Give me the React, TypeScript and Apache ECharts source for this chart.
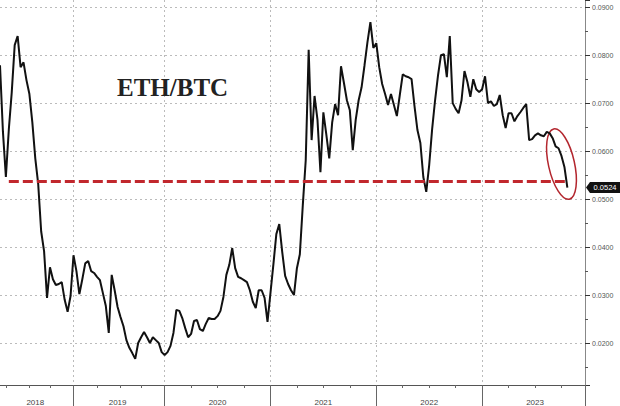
import React, { useEffect, useRef } from 'react';
import * as echarts from 'echarts';

// ---- data ----
const years = ['2018', '2019', '2020', '2021', '2022', '2023'];
// observation slots on the axis for each year (2018 partial; 2019 sparser)
const slotsPerYear = [25, 31, 36, 36, 36, 36];
const fullYearSlots = [31, 31, 36, 36, 36, 36];

const v2018 = [0.0779, 0.064, 0.0546, 0.0645, 0.0723, 0.0821, 0.084, 0.0775, 0.0785, 0.0748, 0.0719, 0.066, 0.0585, 0.0531, 0.0433, 0.0391, 0.0294, 0.0358, 0.0333, 0.0321, 0.0323, 0.0327, 0.029, 0.0265, 0.0298];
const v2019 = [0.0383, 0.035, 0.0302, 0.0333, 0.0366, 0.0371, 0.035, 0.0346, 0.0338, 0.0331, 0.0304, 0.0277, 0.0221, 0.0342, 0.031, 0.0275, 0.0254, 0.0235, 0.0206, 0.019, 0.0179, 0.0167, 0.02, 0.0212, 0.0223, 0.0212, 0.02, 0.0212, 0.0206, 0.02, 0.0181];
const v2020 = [0.0175, 0.0181, 0.0194, 0.0221, 0.0269, 0.0267, 0.0252, 0.0231, 0.0212, 0.0219, 0.0246, 0.0248, 0.0229, 0.0225, 0.024, 0.0252, 0.025, 0.025, 0.0256, 0.0267, 0.0296, 0.0342, 0.0363, 0.0398, 0.0356, 0.0338, 0.0335, 0.0331, 0.0327, 0.031, 0.0286, 0.0273, 0.031, 0.031, 0.0294, 0.0244];
const v2021 = [0.0304, 0.0364, 0.0427, 0.0448, 0.039, 0.034, 0.0323, 0.031, 0.03, 0.0356, 0.0385, 0.0487, 0.0581, 0.0811, 0.0623, 0.0715, 0.0665, 0.0556, 0.0681, 0.0635, 0.0585, 0.066, 0.0698, 0.0675, 0.0777, 0.0742, 0.0706, 0.0685, 0.0602, 0.0665, 0.0706, 0.0733, 0.0779, 0.0827, 0.0869, 0.0815];
const v2022 = [0.0825, 0.0775, 0.074, 0.0719, 0.0696, 0.0719, 0.0696, 0.0673, 0.0717, 0.076, 0.0756, 0.0754, 0.075, 0.0694, 0.0644, 0.0617, 0.0546, 0.0515, 0.0571, 0.0646, 0.0706, 0.0758, 0.08, 0.0802, 0.0754, 0.084, 0.07, 0.0688, 0.0679, 0.0706, 0.0767, 0.0744, 0.0713, 0.075, 0.0729, 0.0723];
const v2023 = [0.0729, 0.0756, 0.07, 0.0704, 0.0694, 0.0698, 0.0717, 0.0675, 0.0648, 0.0679, 0.0679, 0.0662, 0.0673, 0.0681, 0.069, 0.0698, 0.0623, 0.0625, 0.0633, 0.0637, 0.0633, 0.0631, 0.064, 0.0637, 0.0627, 0.061, 0.0606, 0.059, 0.0567, 0.0524];

const breakLevel = 0.0537; // red dashed support line
const lastValue = 0.0524;
const yTicksLabels = ['0.0200', '0.0300', '0.0400', '0.0500', '0.0600', '0.0700', '0.0800', '0.0900'];

const seriesByYear = [v2018, v2019, v2020, v2021, v2022, v2023];

// ---- build category axis + series ----
const categories: string[] = [];
const values: (number | null)[] = [];
const yearStart: number[] = [];
years.forEach((y, k) => {
  yearStart.push(categories.length);
  for (let j = 0; j < slotsPerYear[k]; j++) {
    categories.push(`${y}-${String(j + 1).padStart(2, '0')}`);
    values.push(j < seriesByYear[k].length ? seriesByYear[k][j] : null);
  }
});
const lastIdx = categories.length - 1;
let lastDataIdx = 0;
values.forEach((v, i) => { if (v != null) lastDataIdx = i; });

const yearTickSet = new Set<number>([...yearStart.slice(1), lastIdx]);
const labelIdx = new Map<number, string>();
years.forEach((y, k) => labelIdx.set(Math.round(yearStart[k] + slotsPerYear[k] / 2 - 0.5), y));
const quarterSet = new Set<number>();
years.forEach((y, k) => {
  const full = fullYearSlots[k];
  const start = k === 0 ? yearStart[1] - full : yearStart[k];
  for (let q = 1; q < 4; q++) {
    const idx = Math.round(start + (q * full) / 4);
    if (idx >= 0 && idx <= lastIdx) quarterSet.add(idx);
  }
});

export default function App() {
  const ref = useRef<HTMLDivElement>(null);
  useEffect(() => {
    if (!ref.current) return;
    const chart = echarts.init(ref.current, undefined, { renderer: 'svg' });
    const option: any = {
      animation: false,
      backgroundColor: '#ffffff',
      title: {
        text: 'ETH/BTC',
        left: 112,
        top: 70,
        textStyle: { fontFamily: 'Liberation Serif', fontWeight: 'bold', fontSize: 25, color: '#222' },
      },
      grid: { left: 0, right: 35, top: 0, bottom: 21, containLabel: false },
      xAxis: [
        {
          type: 'category',
          data: categories,
          boundaryGap: false,
          axisLine: { show: true, lineStyle: { color: '#555', width: 1 } },
          axisTick: { show: true, interval: (i: number) => yearTickSet.has(i), length: 21, lineStyle: { color: '#666' } },
          axisLabel: {
            interval: (i: number) => labelIdx.has(i),
            formatter: (v: string) => v.slice(0, 4),
            fontSize: 8,
            color: '#444',
            margin: 13,
            fontFamily: 'Liberation Sans',
          },
          splitLine: { show: true, interval: (i: number) => yearTickSet.has(i), lineStyle: { color: '#bbb', type: [2, 3] } },
        },
        {
          type: 'category',
          data: categories,
          boundaryGap: false,
          position: 'bottom',
          axisLine: { show: false },
          axisLabel: { show: false },
          splitLine: { show: false },
          axisTick: { show: true, interval: (i: number) => quarterSet.has(i), length: 3, lineStyle: { color: '#666' } },
        },
      ],
      yAxis: {
        type: 'value',
        position: 'right',
        min: 0.01125,
        max: 0.0915,
        splitNumber: 8,
        axisLine: { show: true, lineStyle: { color: '#888' } },
        axisTick: { show: true, length: 5, lineStyle: { color: '#333' } },
        minorTick: { show: true, splitNumber: 2, length: 3, lineStyle: { color: '#555' } },
        axisLabel: {
          showMinLabel: false,
          showMaxLabel: false,
          formatter: (v: number) => {
            const s = v.toFixed(4);
            return yTicksLabels.includes(s) ? s : '';
          },
          fontSize: 7,
          color: '#555',
          margin: 7,
          fontFamily: 'Liberation Sans',
        },
        splitLine: { show: true, showMinLine: false, showMaxLine: false, lineStyle: { color: '#bbb', type: [2, 3] } },
      },
      series: [
        {
          type: 'line',
          data: values,
          showSymbol: false,
          symbol: 'none',
          silent: true,
          lineStyle: { color: '#111', width: 2 },
          markLine: {
            silent: true,
            symbol: 'none',
            label: { show: false },
            lineStyle: { color: '#c1272d', width: 3, type: [10, 4] },
            data: [[{ coord: [categories[3], breakLevel] }, { coord: [categories[lastDataIdx], breakLevel] }]],
          },
          markPoint: {
            silent: true,
            data: [
              {
                coord: [categories[lastIdx], lastValue],
                symbol: 'path://M0,5L4,0L34,0L34,10L4,10Z',
                symbolSize: [34, 11],
                symbolOffset: [18, 0],
                itemStyle: { color: '#111' },
                label: {
                  show: true,
                  position: 'inside',
                  formatter: lastValue.toFixed(4),
                  color: '#fff',
                  fontSize: 7.5,
                  fontFamily: 'Liberation Sans',
                  offset: [2, 0],
                },
              },
            ],
          },
        },
      ],
    };
    chart.setOption(option);
    const pt = chart.convertToPixel({ seriesIndex: 0 }, [categories[191], 0.0573]) as number[];
    if (pt && isFinite(pt[0])) {
      chart.setOption({
        graphic: [
          {
            type: 'ellipse',
            x: pt[0],
            y: pt[1],
            rotation: 0.22,
            silent: true,
            shape: { cx: 0, cy: 0, rx: 13, ry: 36 },
            style: { fill: 'none', stroke: '#b3262e', lineWidth: 1.5 },
          },
        ],
      });
    }
    return () => chart.dispose();
  }, []);
  return (
    <div
      ref={ref}
      style={{ position: 'fixed', left: 0, top: 0, width: 620, height: 406, background: '#fff' }}
    />
  );
}
